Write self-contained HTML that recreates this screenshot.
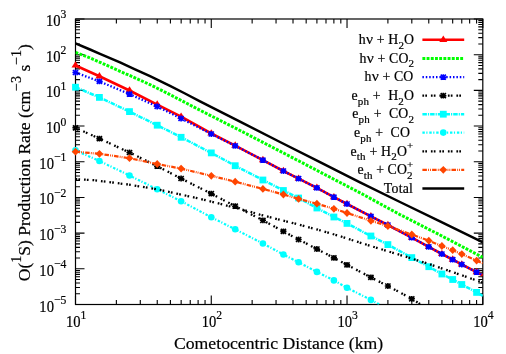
<!DOCTYPE html>
<html><head><meta charset="utf-8"><title>O(1S) Production Rate</title>
<style>html,body{margin:0;padding:0;background:#fff;}body{width:506px;height:354px;overflow:hidden;position:relative;font-family:"Liberation Serif",serif;}</style>
</head><body>
<svg width="506" height="354" viewBox="0 0 506 354" style="position:absolute;left:0;top:0;will-change:transform">
<rect width="506" height="354" fill="#fff"/>
<g stroke="#000" stroke-width="1.1" fill="none">
<path d="M75.50 19.00h9M482.80 19.00h-9"/>
<path d="M75.50 43.94h4.5M482.80 43.94h-4.5"/>
<path d="M75.50 37.66h4.5M482.80 37.66h-4.5"/>
<path d="M75.50 33.20h4.5M482.80 33.20h-4.5"/>
<path d="M75.50 29.74h4.5M482.80 29.74h-4.5"/>
<path d="M75.50 26.92h4.5M482.80 26.92h-4.5"/>
<path d="M75.50 24.53h4.5M482.80 24.53h-4.5"/>
<path d="M75.50 22.46h4.5M482.80 22.46h-4.5"/>
<path d="M75.50 20.63h4.5M482.80 20.63h-4.5"/>
<path d="M75.50 54.69h9M482.80 54.69h-9"/>
<path d="M75.50 79.63h4.5M482.80 79.63h-4.5"/>
<path d="M75.50 73.35h4.5M482.80 73.35h-4.5"/>
<path d="M75.50 68.89h4.5M482.80 68.89h-4.5"/>
<path d="M75.50 65.43h4.5M482.80 65.43h-4.5"/>
<path d="M75.50 62.60h4.5M482.80 62.60h-4.5"/>
<path d="M75.50 60.22h4.5M482.80 60.22h-4.5"/>
<path d="M75.50 58.15h4.5M482.80 58.15h-4.5"/>
<path d="M75.50 56.32h4.5M482.80 56.32h-4.5"/>
<path d="M75.50 90.38h9M482.80 90.38h-9"/>
<path d="M75.50 115.32h4.5M482.80 115.32h-4.5"/>
<path d="M75.50 109.04h4.5M482.80 109.04h-4.5"/>
<path d="M75.50 104.58h4.5M482.80 104.58h-4.5"/>
<path d="M75.50 101.12h4.5M482.80 101.12h-4.5"/>
<path d="M75.50 98.29h4.5M482.80 98.29h-4.5"/>
<path d="M75.50 95.90h4.5M482.80 95.90h-4.5"/>
<path d="M75.50 93.83h4.5M482.80 93.83h-4.5"/>
<path d="M75.50 92.01h4.5M482.80 92.01h-4.5"/>
<path d="M75.50 126.06h9M482.80 126.06h-9"/>
<path d="M75.50 151.01h4.5M482.80 151.01h-4.5"/>
<path d="M75.50 144.72h4.5M482.80 144.72h-4.5"/>
<path d="M75.50 140.26h4.5M482.80 140.26h-4.5"/>
<path d="M75.50 136.81h4.5M482.80 136.81h-4.5"/>
<path d="M75.50 133.98h4.5M482.80 133.98h-4.5"/>
<path d="M75.50 131.59h4.5M482.80 131.59h-4.5"/>
<path d="M75.50 129.52h4.5M482.80 129.52h-4.5"/>
<path d="M75.50 127.70h4.5M482.80 127.70h-4.5"/>
<path d="M75.50 161.75h9M482.80 161.75h-9"/>
<path d="M75.50 186.69h4.5M482.80 186.69h-4.5"/>
<path d="M75.50 180.41h4.5M482.80 180.41h-4.5"/>
<path d="M75.50 175.95h4.5M482.80 175.95h-4.5"/>
<path d="M75.50 172.49h4.5M482.80 172.49h-4.5"/>
<path d="M75.50 169.67h4.5M482.80 169.67h-4.5"/>
<path d="M75.50 167.28h4.5M482.80 167.28h-4.5"/>
<path d="M75.50 165.21h4.5M482.80 165.21h-4.5"/>
<path d="M75.50 163.38h4.5M482.80 163.38h-4.5"/>
<path d="M75.50 197.44h9M482.80 197.44h-9"/>
<path d="M75.50 222.38h4.5M482.80 222.38h-4.5"/>
<path d="M75.50 216.10h4.5M482.80 216.10h-4.5"/>
<path d="M75.50 211.64h4.5M482.80 211.64h-4.5"/>
<path d="M75.50 208.18h4.5M482.80 208.18h-4.5"/>
<path d="M75.50 205.35h4.5M482.80 205.35h-4.5"/>
<path d="M75.50 202.97h4.5M482.80 202.97h-4.5"/>
<path d="M75.50 200.90h4.5M482.80 200.90h-4.5"/>
<path d="M75.50 199.07h4.5M482.80 199.07h-4.5"/>
<path d="M75.50 233.12h9M482.80 233.12h-9"/>
<path d="M75.50 258.07h4.5M482.80 258.07h-4.5"/>
<path d="M75.50 251.79h4.5M482.80 251.79h-4.5"/>
<path d="M75.50 247.33h4.5M482.80 247.33h-4.5"/>
<path d="M75.50 243.87h4.5M482.80 243.87h-4.5"/>
<path d="M75.50 241.04h4.5M482.80 241.04h-4.5"/>
<path d="M75.50 238.65h4.5M482.80 238.65h-4.5"/>
<path d="M75.50 236.58h4.5M482.80 236.58h-4.5"/>
<path d="M75.50 234.76h4.5M482.80 234.76h-4.5"/>
<path d="M75.50 268.81h9M482.80 268.81h-9"/>
<path d="M75.50 293.76h4.5M482.80 293.76h-4.5"/>
<path d="M75.50 287.47h4.5M482.80 287.47h-4.5"/>
<path d="M75.50 283.01h4.5M482.80 283.01h-4.5"/>
<path d="M75.50 279.56h4.5M482.80 279.56h-4.5"/>
<path d="M75.50 276.73h4.5M482.80 276.73h-4.5"/>
<path d="M75.50 274.34h4.5M482.80 274.34h-4.5"/>
<path d="M75.50 272.27h4.5M482.80 272.27h-4.5"/>
<path d="M75.50 270.45h4.5M482.80 270.45h-4.5"/>
<path d="M75.50 304.50h9M482.80 304.50h-9"/>
<path d="M75.50 304.50v-9M75.50 19.00v9"/>
<path d="M116.37 304.50v-4.5M116.37 19.00v4.5"/>
<path d="M140.28 304.50v-4.5M140.28 19.00v4.5"/>
<path d="M157.24 304.50v-4.5M157.24 19.00v4.5"/>
<path d="M170.40 304.50v-4.5M170.40 19.00v4.5"/>
<path d="M181.15 304.50v-4.5M181.15 19.00v4.5"/>
<path d="M190.24 304.50v-4.5M190.24 19.00v4.5"/>
<path d="M198.11 304.50v-4.5M198.11 19.00v4.5"/>
<path d="M205.05 304.50v-4.5M205.05 19.00v4.5"/>
<path d="M211.27 304.50v-9M211.27 19.00v9"/>
<path d="M252.14 304.50v-4.5M252.14 19.00v4.5"/>
<path d="M276.04 304.50v-4.5M276.04 19.00v4.5"/>
<path d="M293.01 304.50v-4.5M293.01 19.00v4.5"/>
<path d="M306.16 304.50v-4.5M306.16 19.00v4.5"/>
<path d="M316.91 304.50v-4.5M316.91 19.00v4.5"/>
<path d="M326.00 304.50v-4.5M326.00 19.00v4.5"/>
<path d="M333.88 304.50v-4.5M333.88 19.00v4.5"/>
<path d="M340.82 304.50v-4.5M340.82 19.00v4.5"/>
<path d="M347.03 304.50v-9M347.03 19.00v9"/>
<path d="M387.90 304.50v-4.5M387.90 19.00v4.5"/>
<path d="M411.81 304.50v-4.5M411.81 19.00v4.5"/>
<path d="M428.77 304.50v-4.5M428.77 19.00v4.5"/>
<path d="M441.93 304.50v-4.5M441.93 19.00v4.5"/>
<path d="M452.68 304.50v-4.5M452.68 19.00v4.5"/>
<path d="M461.77 304.50v-4.5M461.77 19.00v4.5"/>
<path d="M469.64 304.50v-4.5M469.64 19.00v4.5"/>
<path d="M476.59 304.50v-4.5M476.59 19.00v4.5"/>
<path d="M482.80 304.50v-9M482.80 19.00v9"/>
</g>
<rect x="75.50" y="19.00" width="407.30" height="285.50" fill="none" stroke="#000" stroke-width="1.2"/>
<defs><clipPath id="c"><rect x="75.50" y="19.00" width="407.30" height="285.50"/></clipPath>
<path id="tri" d="M0 -4.3L4 2.1L-4 2.1Z"/>
<path id="st" d="M-3.1 0H3.1M0 -2.9V2.9M-2.6 -2.5L2.6 2.5M-2.6 2.5L2.6 -2.5" stroke-width="1.6" fill="none"/>
<rect id="sq" x="-3.4" y="-3.4" width="6.8" height="6.8"/>
<circle id="ci" r="3.3"/>
<path id="di" d="M0 -3.9L3.8 0L0 3.9L-3.8 0Z"/>
</defs>
<polyline points="75.5,65.5 99.4,76.3 129.5,90.5 157.2,104.6 181.1,116.7 211.3,133.5 235.2,145.6 262.9,160.1 283.4,171.0 298.6,178.7 316.9,187.9 333.9,197.2 347.0,204.0 370.9,216.3 387.9,225.0 411.8,237.7 428.8,246.9 441.9,254.0 452.7,259.6 461.8,264.5 476.6,272.1 482.8,275.3" fill="none" stroke="#ff0000" stroke-width="2.6" clip-path="url(#c)"/>
<use href="#tri" x="75.5" y="65.5" fill="#ff0000" stroke="none"/>
<use href="#tri" x="99.4" y="76.3" fill="#ff0000" stroke="none"/>
<use href="#tri" x="129.5" y="90.5" fill="#ff0000" stroke="none"/>
<use href="#tri" x="157.2" y="104.6" fill="#ff0000" stroke="none"/>
<use href="#tri" x="181.1" y="116.7" fill="#ff0000" stroke="none"/>
<use href="#tri" x="211.3" y="133.5" fill="#ff0000" stroke="none"/>
<use href="#tri" x="235.2" y="145.6" fill="#ff0000" stroke="none"/>
<use href="#tri" x="262.9" y="160.1" fill="#ff0000" stroke="none"/>
<use href="#tri" x="283.4" y="171.0" fill="#ff0000" stroke="none"/>
<use href="#tri" x="298.6" y="178.7" fill="#ff0000" stroke="none"/>
<use href="#tri" x="316.9" y="187.9" fill="#ff0000" stroke="none"/>
<use href="#tri" x="333.9" y="197.2" fill="#ff0000" stroke="none"/>
<use href="#tri" x="347.0" y="204.0" fill="#ff0000" stroke="none"/>
<use href="#tri" x="370.9" y="216.3" fill="#ff0000" stroke="none"/>
<use href="#tri" x="387.9" y="225.0" fill="#ff0000" stroke="none"/>
<use href="#tri" x="411.8" y="237.7" fill="#ff0000" stroke="none"/>
<use href="#tri" x="428.8" y="246.9" fill="#ff0000" stroke="none"/>
<use href="#tri" x="441.9" y="254.0" fill="#ff0000" stroke="none"/>
<use href="#tri" x="452.7" y="259.6" fill="#ff0000" stroke="none"/>
<use href="#tri" x="461.8" y="264.5" fill="#ff0000" stroke="none"/>
<use href="#tri" x="476.6" y="272.1" fill="#ff0000" stroke="none"/>
<polyline points="75.5,52.4 90.0,57.9 100.0,62.3 120.0,71.3 135.0,77.8 150.0,84.6 170.0,94.6 185.0,102.4 200.0,110.2 240.0,130.5 280.0,151.2 320.0,172.0 360.0,192.8 400.0,214.6 440.0,235.0 483.0,257.5" fill="none" stroke="#00ff00" stroke-width="3.0" stroke-dasharray="2.9 1.3" clip-path="url(#c)"/>
<polyline points="75.5,72.5 99.4,81.4 129.5,94.1 157.2,106.5 181.1,118.5 211.3,134.0 235.2,145.8 262.9,160.1 283.4,171.0 298.6,178.7 316.9,187.9 333.9,197.2 347.0,204.0 370.9,216.3 387.9,225.0 411.8,237.7 428.8,246.9 441.9,254.0 452.7,259.6 461.8,264.5 476.6,272.1 482.8,275.3" fill="none" stroke="#0000ff" stroke-width="2.3" stroke-dasharray="1.5 1.9" clip-path="url(#c)"/>
<use href="#st" x="75.5" y="72.5" fill="#0000ff" stroke="#0000ff"/>
<use href="#st" x="99.4" y="81.4" fill="#0000ff" stroke="#0000ff"/>
<use href="#st" x="129.5" y="94.1" fill="#0000ff" stroke="#0000ff"/>
<use href="#st" x="157.2" y="106.5" fill="#0000ff" stroke="#0000ff"/>
<use href="#st" x="181.1" y="118.5" fill="#0000ff" stroke="#0000ff"/>
<use href="#st" x="211.3" y="134.0" fill="#0000ff" stroke="#0000ff"/>
<use href="#st" x="235.2" y="145.8" fill="#0000ff" stroke="#0000ff"/>
<use href="#st" x="262.9" y="160.1" fill="#0000ff" stroke="#0000ff"/>
<use href="#st" x="283.4" y="171.0" fill="#0000ff" stroke="#0000ff"/>
<use href="#st" x="298.6" y="178.7" fill="#0000ff" stroke="#0000ff"/>
<use href="#st" x="316.9" y="187.9" fill="#0000ff" stroke="#0000ff"/>
<use href="#st" x="333.9" y="197.2" fill="#0000ff" stroke="#0000ff"/>
<use href="#st" x="347.0" y="204.0" fill="#0000ff" stroke="#0000ff"/>
<use href="#st" x="370.9" y="216.3" fill="#0000ff" stroke="#0000ff"/>
<use href="#st" x="387.9" y="225.0" fill="#0000ff" stroke="#0000ff"/>
<use href="#st" x="411.8" y="237.7" fill="#0000ff" stroke="#0000ff"/>
<use href="#st" x="428.8" y="246.9" fill="#0000ff" stroke="#0000ff"/>
<use href="#st" x="441.9" y="254.0" fill="#0000ff" stroke="#0000ff"/>
<use href="#st" x="452.7" y="259.6" fill="#0000ff" stroke="#0000ff"/>
<use href="#st" x="461.8" y="264.5" fill="#0000ff" stroke="#0000ff"/>
<use href="#st" x="476.6" y="272.1" fill="#0000ff" stroke="#0000ff"/>
<polyline points="75.5,127.8 99.4,138.6 129.5,152.5 157.2,166.2 181.1,178.5 211.3,193.7 235.2,206.2 262.9,220.3 283.4,231.4 298.6,239.5 316.9,249.0 333.9,257.9 347.0,264.8 370.9,277.4 387.9,286.0 411.8,298.8 420.8,304.5" fill="none" stroke="#000" stroke-width="2.3" stroke-dasharray="1.7 1.2 1.7 3.9" clip-path="url(#c)"/>
<use href="#st" x="75.5" y="127.8" fill="#000" stroke="#000"/>
<use href="#st" x="99.4" y="138.6" fill="#000" stroke="#000"/>
<use href="#st" x="129.5" y="152.5" fill="#000" stroke="#000"/>
<use href="#st" x="157.2" y="166.2" fill="#000" stroke="#000"/>
<use href="#st" x="181.1" y="178.5" fill="#000" stroke="#000"/>
<use href="#st" x="211.3" y="193.7" fill="#000" stroke="#000"/>
<use href="#st" x="235.2" y="206.2" fill="#000" stroke="#000"/>
<use href="#st" x="262.9" y="220.3" fill="#000" stroke="#000"/>
<use href="#st" x="283.4" y="231.4" fill="#000" stroke="#000"/>
<use href="#st" x="298.6" y="239.5" fill="#000" stroke="#000"/>
<use href="#st" x="316.9" y="249.0" fill="#000" stroke="#000"/>
<use href="#st" x="333.9" y="257.9" fill="#000" stroke="#000"/>
<use href="#st" x="347.0" y="264.8" fill="#000" stroke="#000"/>
<use href="#st" x="370.9" y="277.4" fill="#000" stroke="#000"/>
<use href="#st" x="387.9" y="286.0" fill="#000" stroke="#000"/>
<use href="#st" x="411.8" y="298.8" fill="#000" stroke="#000"/>
<polyline points="75.5,87.2 99.4,97.4 129.5,111.6 157.2,125.2 181.1,137.3 211.3,152.9 235.2,165.7 262.9,180.0 283.4,190.5 298.6,198.0 316.9,208.0 333.9,217.0 347.0,223.4 370.9,236.0 387.9,244.6 411.8,257.6 428.8,266.7 441.9,274.0 452.7,279.5 461.8,284.5 476.6,292.4 482.8,295.8" fill="none" stroke="#00ffff" stroke-width="2.5" stroke-dasharray="4.5 1 1.2 1" clip-path="url(#c)"/>
<use href="#sq" x="75.5" y="87.2" fill="#00ffff" stroke="none"/>
<use href="#sq" x="99.4" y="97.4" fill="#00ffff" stroke="none"/>
<use href="#sq" x="129.5" y="111.6" fill="#00ffff" stroke="none"/>
<use href="#sq" x="157.2" y="125.2" fill="#00ffff" stroke="none"/>
<use href="#sq" x="181.1" y="137.3" fill="#00ffff" stroke="none"/>
<use href="#sq" x="211.3" y="152.9" fill="#00ffff" stroke="none"/>
<use href="#sq" x="235.2" y="165.7" fill="#00ffff" stroke="none"/>
<use href="#sq" x="262.9" y="180.0" fill="#00ffff" stroke="none"/>
<use href="#sq" x="283.4" y="190.5" fill="#00ffff" stroke="none"/>
<use href="#sq" x="298.6" y="198.0" fill="#00ffff" stroke="none"/>
<use href="#sq" x="316.9" y="208.0" fill="#00ffff" stroke="none"/>
<use href="#sq" x="333.9" y="217.0" fill="#00ffff" stroke="none"/>
<use href="#sq" x="347.0" y="223.4" fill="#00ffff" stroke="none"/>
<use href="#sq" x="370.9" y="236.0" fill="#00ffff" stroke="none"/>
<use href="#sq" x="387.9" y="244.6" fill="#00ffff" stroke="none"/>
<use href="#sq" x="411.8" y="257.6" fill="#00ffff" stroke="none"/>
<use href="#sq" x="428.8" y="266.7" fill="#00ffff" stroke="none"/>
<use href="#sq" x="441.9" y="274.0" fill="#00ffff" stroke="none"/>
<use href="#sq" x="452.7" y="279.5" fill="#00ffff" stroke="none"/>
<use href="#sq" x="461.8" y="284.5" fill="#00ffff" stroke="none"/>
<use href="#sq" x="476.6" y="292.4" fill="#00ffff" stroke="none"/>
<polyline points="75.5,150.4 99.4,161.0 129.5,175.5 157.2,189.3 181.1,201.2 211.3,217.3 235.2,229.3 262.9,243.5 283.4,254.5 298.6,262.3 316.9,271.9 333.9,280.4 347.0,287.8 370.9,299.9 379.7,304.5" fill="none" stroke="#00ffff" stroke-width="2.2" stroke-dasharray="2.4 1.5 1.2 1.8" clip-path="url(#c)"/>
<use href="#ci" x="75.5" y="150.4" fill="#00ffff" stroke="none"/>
<use href="#ci" x="99.4" y="161.0" fill="#00ffff" stroke="none"/>
<use href="#ci" x="129.5" y="175.5" fill="#00ffff" stroke="none"/>
<use href="#ci" x="157.2" y="189.3" fill="#00ffff" stroke="none"/>
<use href="#ci" x="181.1" y="201.2" fill="#00ffff" stroke="none"/>
<use href="#ci" x="211.3" y="217.3" fill="#00ffff" stroke="none"/>
<use href="#ci" x="235.2" y="229.3" fill="#00ffff" stroke="none"/>
<use href="#ci" x="262.9" y="243.5" fill="#00ffff" stroke="none"/>
<use href="#ci" x="283.4" y="254.5" fill="#00ffff" stroke="none"/>
<use href="#ci" x="298.6" y="262.3" fill="#00ffff" stroke="none"/>
<use href="#ci" x="316.9" y="271.9" fill="#00ffff" stroke="none"/>
<use href="#ci" x="333.9" y="280.4" fill="#00ffff" stroke="none"/>
<use href="#ci" x="347.0" y="287.8" fill="#00ffff" stroke="none"/>
<use href="#ci" x="370.9" y="299.9" fill="#00ffff" stroke="none"/>
<polyline points="75.5,179.1 93.7,180.2 111.5,182.4 127.3,184.4 144.1,187.1 160.0,189.9 179.8,194.3 199.5,198.7 219.3,203.6 243.0,209.8 259.8,214.6 279.5,219.7 299.3,224.7 319.0,230.0 338.8,235.8 349.8,239.4 369.5,245.6 389.3,251.7 409.0,257.7 428.8,264.0 452.4,272.0 476.7,280.5 483.0,282.7" fill="none" stroke="#000" stroke-width="2.3" stroke-dasharray="1.7 1.2 1.7 3.9" clip-path="url(#c)"/>
<polyline points="75.5,151.7 99.4,153.8 129.5,158.2 157.2,164.0 181.1,168.6 211.3,175.8 235.2,181.7 262.9,188.9 283.4,194.5 298.6,198.9 316.9,203.7 333.9,208.8 347.0,213.0 370.9,220.8 387.9,226.0 411.8,234.5 428.8,240.7 441.9,246.0 452.7,250.2 461.8,254.1 476.6,260.6 482.8,263.3" fill="none" stroke="#ff4500" stroke-width="2.2" stroke-dasharray="4.5 1.2 0.9 1 0.9 1.2" clip-path="url(#c)"/>
<use href="#di" x="75.5" y="151.7" fill="#ff4500" stroke="none"/>
<use href="#di" x="99.4" y="153.8" fill="#ff4500" stroke="none"/>
<use href="#di" x="129.5" y="158.2" fill="#ff4500" stroke="none"/>
<use href="#di" x="157.2" y="164.0" fill="#ff4500" stroke="none"/>
<use href="#di" x="181.1" y="168.6" fill="#ff4500" stroke="none"/>
<use href="#di" x="211.3" y="175.8" fill="#ff4500" stroke="none"/>
<use href="#di" x="235.2" y="181.7" fill="#ff4500" stroke="none"/>
<use href="#di" x="262.9" y="188.9" fill="#ff4500" stroke="none"/>
<use href="#di" x="283.4" y="194.5" fill="#ff4500" stroke="none"/>
<use href="#di" x="298.6" y="198.9" fill="#ff4500" stroke="none"/>
<use href="#di" x="316.9" y="203.7" fill="#ff4500" stroke="none"/>
<use href="#di" x="333.9" y="208.8" fill="#ff4500" stroke="none"/>
<use href="#di" x="347.0" y="213.0" fill="#ff4500" stroke="none"/>
<use href="#di" x="370.9" y="220.8" fill="#ff4500" stroke="none"/>
<use href="#di" x="387.9" y="226.0" fill="#ff4500" stroke="none"/>
<use href="#di" x="411.8" y="234.5" fill="#ff4500" stroke="none"/>
<use href="#di" x="428.8" y="240.7" fill="#ff4500" stroke="none"/>
<use href="#di" x="441.9" y="246.0" fill="#ff4500" stroke="none"/>
<use href="#di" x="452.7" y="250.2" fill="#ff4500" stroke="none"/>
<use href="#di" x="461.8" y="254.1" fill="#ff4500" stroke="none"/>
<use href="#di" x="476.6" y="260.6" fill="#ff4500" stroke="none"/>
<polyline points="75.5,43.4 90.0,49.5 100.0,53.8 120.0,62.4 135.0,69.3 150.0,76.2 170.0,85.9 185.0,93.5 200.0,101.3 240.0,121.6 280.0,142.0 320.0,162.2 360.0,182.4 400.0,202.0 440.0,221.4 483.0,242.3" fill="none" stroke="#000" stroke-width="2.5" clip-path="url(#c)"/>
<path d="M422.4 39.8H464.2" fill="none" stroke="#ff0000" stroke-width="2.6"/>
<use href="#tri" x="443.3" y="39.8" fill="#ff0000" stroke="none"/>
<path d="M422.4 58.5H464.2" fill="none" stroke="#00ff00" stroke-width="3.0" stroke-dasharray="2.9 1.3"/>
<path d="M422.4 77.2H464.2" fill="none" stroke="#0000ff" stroke-width="2.3" stroke-dasharray="1.5 1.9"/>
<use href="#st" x="443.3" y="77.2" fill="#0000ff" stroke="#0000ff"/>
<path d="M422.4 95.7H464.2" fill="none" stroke="#000" stroke-width="2.3" stroke-dasharray="1.7 1.2 1.7 3.9"/>
<use href="#st" x="443.3" y="95.7" fill="#000" stroke="#000"/>
<path d="M422.4 114.2H464.2" fill="none" stroke="#00ffff" stroke-width="2.5" stroke-dasharray="4.5 1 1.2 1"/>
<use href="#sq" x="443.3" y="114.2" fill="#00ffff" stroke="none"/>
<path d="M422.4 132.6H464.2" fill="none" stroke="#00ffff" stroke-width="2.2" stroke-dasharray="2.4 1.5 1.2 1.8"/>
<use href="#ci" x="443.3" y="132.6" fill="#00ffff" stroke="none"/>
<path d="M422.4 151.3H464.2" fill="none" stroke="#000" stroke-width="2.3" stroke-dasharray="1.7 1.2 1.7 3.9"/>
<path d="M422.4 169.8H464.2" fill="none" stroke="#ff4500" stroke-width="2.2" stroke-dasharray="4.5 1.2 0.9 1 0.9 1.2"/>
<use href="#di" x="443.3" y="169.8" fill="#ff4500" stroke="none"/>
<path d="M422.4 188.5H464.2" fill="none" stroke="#000" stroke-width="2.6"/>
<g font-family="'Liberation Serif', serif" fill="#000" stroke="#000" stroke-width="0.2">
<text transform="translate(66.3,26.0) scale(0.91,1)" font-size="16" text-anchor="end">10<tspan font-size="12.8" dy="-7.6">3</tspan></text>
<text transform="translate(66.3,61.7) scale(0.91,1)" font-size="16" text-anchor="end">10<tspan font-size="12.8" dy="-7.6">2</tspan></text>
<text transform="translate(66.3,97.4) scale(0.91,1)" font-size="16" text-anchor="end">10<tspan font-size="12.8" dy="-7.6">1</tspan></text>
<text transform="translate(66.3,133.1) scale(0.91,1)" font-size="16" text-anchor="end">10<tspan font-size="12.8" dy="-7.6">0</tspan></text>
<text transform="translate(66.3,168.8) scale(0.91,1)" font-size="16" text-anchor="end">10<tspan font-size="12.8" dy="-7.6">−1</tspan></text>
<text transform="translate(66.3,204.4) scale(0.91,1)" font-size="16" text-anchor="end">10<tspan font-size="12.8" dy="-7.6">−2</tspan></text>
<text transform="translate(66.3,240.1) scale(0.91,1)" font-size="16" text-anchor="end">10<tspan font-size="12.8" dy="-7.6">−3</tspan></text>
<text transform="translate(66.3,275.8) scale(0.91,1)" font-size="16" text-anchor="end">10<tspan font-size="12.8" dy="-7.6">−4</tspan></text>
<text transform="translate(66.3,311.5) scale(0.91,1)" font-size="16" text-anchor="end">10<tspan font-size="12.8" dy="-7.6">−5</tspan></text>
<text transform="translate(76.1,326.7) scale(0.91,1)" font-size="16" text-anchor="middle">10<tspan font-size="12.8" dy="-7.6">1</tspan></text>
<text transform="translate(211.9,326.7) scale(0.91,1)" font-size="16" text-anchor="middle">10<tspan font-size="12.8" dy="-7.6">2</tspan></text>
<text transform="translate(347.6,326.7) scale(0.91,1)" font-size="16" text-anchor="middle">10<tspan font-size="12.8" dy="-7.6">3</tspan></text>
<text transform="translate(483.4,326.7) scale(0.91,1)" font-size="16" text-anchor="middle">10<tspan font-size="12.8" dy="-7.6">4</tspan></text>
<text x="278.6" y="348.8" font-size="17.7" text-anchor="middle">Cometocentric Distance (km)</text>
<text transform="translate(29.6,162.6) rotate(-90)" font-size="17.5" text-anchor="middle">O(<tspan font-size="14.0" dy="-8.3">1</tspan><tspan dy="8.3">S) Production Rate (cm</tspan><tspan font-size="14.0" dy="-8.3">−3</tspan><tspan dy="8.3"> s</tspan><tspan font-size="14.0" dy="-8.3">−1</tspan><tspan dy="8.3">)</tspan></text>
<text x="414.1" y="44.0" font-size="13.8" text-anchor="end" letter-spacing="0.12" xml:space="preserve">h<tspan font-size="15.6" dx="0.3">ν</tspan> + H<tspan font-size="11.0" dy="4.7">2</tspan><tspan dy="-4.7">O</tspan></text>
<text x="414.1" y="62.7" font-size="13.8" text-anchor="end" letter-spacing="0.12" xml:space="preserve">h<tspan font-size="15.6" dx="0.3">ν</tspan> + CO<tspan font-size="11.0" dy="4.7">2</tspan></text>
<text x="413.4" y="81.4" font-size="13.8" text-anchor="end" letter-spacing="0.12" xml:space="preserve">h<tspan font-size="15.6" dx="0.3">ν</tspan> + CO</text>
<text x="414.2" y="99.9" font-size="13.8" text-anchor="end" letter-spacing="0.20" xml:space="preserve">e<tspan font-size="11.0" dy="4.7">ph</tspan><tspan dy="-4.7"> +  H</tspan><tspan font-size="11.0" dy="4.7">2</tspan><tspan dy="-4.7">O</tspan></text>
<text x="414.2" y="118.4" font-size="13.8" text-anchor="end" letter-spacing="0.20" xml:space="preserve">e<tspan font-size="11.0" dy="4.7">ph</tspan><tspan dy="-4.7"> +  CO</tspan><tspan font-size="11.0" dy="4.7">2</tspan></text>
<text x="410.2" y="136.8" font-size="13.8" text-anchor="end" letter-spacing="0.20" xml:space="preserve">e<tspan font-size="11.0" dy="4.7">ph</tspan><tspan dy="-4.7"> +  CO</tspan></text>
<text x="413.5" y="155.5" font-size="13.8" text-anchor="end" letter-spacing="0.20" xml:space="preserve">e<tspan font-size="11.0" dy="4.7">th</tspan><tspan dy="-4.7"> + H</tspan><tspan font-size="11.0" dy="4.7">2</tspan><tspan dy="-4.7">O</tspan><tspan font-size="11.0" dy="-6.6">+</tspan></text>
<text x="413.4" y="174.0" font-size="13.8" text-anchor="end" letter-spacing="0.10" xml:space="preserve">e<tspan font-size="11.0" dy="4.7">th</tspan><tspan dy="-4.7"> + CO</tspan><tspan font-size="11.0" dy="4.7">2</tspan><tspan font-size="11.0" dx="-5.5" dy="-10.4">+</tspan></text>
<text x="413.2" y="192.7" font-size="13.8" text-anchor="end" letter-spacing="0.25" xml:space="preserve">Total</text>
</g>
</svg>
</body></html>
